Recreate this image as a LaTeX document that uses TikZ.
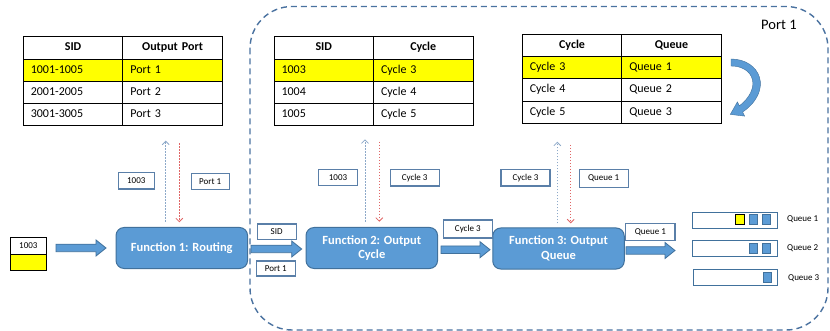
\documentclass[tikz,border=0pt]{standalone}
\usepackage{fontspec}
\setmainfont{Carlito}
\usetikzlibrary{arrows.meta,calc}
\definecolor{fblue}{HTML}{5B9BD5}
\definecolor{fborder}{HTML}{41719C}
\definecolor{lborder}{HTML}{5A7FA8}
\definecolor{dashcol}{HTML}{4A72A0}
\definecolor{upcol}{HTML}{8DA9C9}
\definecolor{downcol}{HTML}{E06666}
\definecolor{hyellow}{HTML}{FFFF00}
\begin{document}
\begin{tikzpicture}[x=1pt,y=-1pt,
  cellbase/.style={draw=black, line width=0.8pt, minimum height=22.25pt, inner xsep=7.5pt, inner ysep=0pt,
    text width=84.5pt, text height=8.5pt, text depth=2.5pt, font=\fontsize{12}{14}\selectfont},
  cellL/.style={cellbase, align=left},
  cellY/.style={cellbase, align=left, fill=hyellow},
  cellH/.style={cellbase, align=center, font=\bfseries\fontsize{12}{14}\selectfont},
  fbox/.style={draw=fborder, line width=1pt, fill=fblue, rounded corners=8pt, minimum width=131.5pt,
    minimum height=41pt, text=white, font=\bfseries\fontsize{12.5}{14.7}\selectfont, align=center, inner sep=0pt},
  lbox/.style={draw=lborder, line width=1.1pt, fill=white, font=\fontsize{9}{10}\selectfont, inner sep=0pt, minimum height=16pt},
  bigarrow/.style={draw=fborder, line width=0.8pt, fill=fblue,
    to path={let \p1=(\tikztostart), \p2=(\tikztotarget) in
      (\x1,\y1+3.75pt) -- (\x2-10pt,\y1+3.75pt) -- (\x2-10pt,\y1+8pt) -- (\x2,\y1)
      -- (\x2-10pt,\y1-8pt) -- (\x2-10pt,\y1-3.75pt) -- (\x1,\y1-3.75pt) -- cycle}},
  uparr/.style={draw=upcol, line width=0.8pt, dash pattern=on 1.5pt off 1.5pt, -{Straight Barb[length=3.5pt,width=7pt]}},
  downarr/.style={draw=downcol, line width=0.8pt, dash pattern=on 1.5pt off 1.5pt, -{Straight Barb[length=3.5pt,width=7pt]}},
  qbox/.style={draw=fborder, line width=1.2pt, fill=white, minimum width=85pt, minimum height=16pt, inner sep=0pt},
  qitem/.style={draw=fborder, line width=0.8pt, fill=fblue, minimum width=8.4pt, minimum height=10pt, inner sep=0pt},
  qlabel/.style={anchor=west, font=\fontsize{9}{10}\selectfont, inner sep=0pt}
]
\useasboundingbox (0,0) rectangle (830,331);
\fill[white] (0,0) rectangle (830,331);

% dashed port boundary
\draw[draw=dashcol, line width=1.4pt, dash pattern=on 6pt off 4pt, rounded corners=42pt] (250,6.5) rectangle (828,330);
\node[anchor=west, font=\fontsize{14.5}{16}\selectfont, inner sep=0pt] (portlbl) at (761,25) {Port 1};

% Table 1
\node[cellH] (t1h1) at (73.05,47.8) {SID};
\node[cellH] (t1h2) at (172.55,47.8) {Output Port};
\node[cellY] (t1a1) at (73.05,70.05) {1001-1005};
\node[cellY] (t1a2) at (172.55,70.05) {Port 1};
\node[cellL] (t1b1) at (73.05,92.3) {2001-2005};
\node[cellL] (t1b2) at (172.55,92.3) {Port 2};
\node[cellL] (t1c1) at (73.05,114.55) {3001-3005};
\node[cellL] (t1c2) at (172.55,114.55) {Port 3};

% Table 2
\node[cellH] (t2h1) at (323.75,47.8) {SID};
\node[cellH] (t2h2) at (423.25,47.8) {Cycle};
\node[cellY] (t2a1) at (323.75,70.05) {1003};
\node[cellY] (t2a2) at (423.25,70.05) {Cycle 3};
\node[cellL] (t2b1) at (323.75,92.3) {1004};
\node[cellL] (t2b2) at (423.25,92.3) {Cycle 4};
\node[cellL] (t2c1) at (323.75,114.55) {1005};
\node[cellL] (t2c2) at (423.25,114.55) {Cycle 5};

% Table 3
\node[cellH] (t3h1) at (572.05,45.4) {Cycle};
\node[cellH] (t3h2) at (671.55,45.4) {Queue};
\node[cellY] (t3a1) at (572.05,67.65) {Cycle 3};
\node[cellY] (t3a2) at (671.55,67.65) {Queue 1};
\node[cellL] (t3b1) at (572.05,89.9) {Cycle 4};
\node[cellL] (t3b2) at (671.55,89.9) {Queue 2};
\node[cellL] (t3c1) at (572.05,112.15) {Cycle 5};
\node[cellL] (t3c2) at (671.55,112.15) {Queue 3};

% curved arrow
\filldraw[fill=fblue, draw=fborder, line width=0.4pt]
  (731,59) .. controls (760,59) and (774,90) .. (742.6,112.1) -- (744.6,116.1) -- (730.3,114.4)
  -- (737.4,101.9) -- (739.4,105.9) .. controls (762,88) and (754,66) .. (731,66) -- cycle;

% input packet
\node[draw=black, line width=0.8pt, minimum width=35.3pt, minimum height=16.7pt, inner sep=0pt,
  font=\fontsize{9}{10}\selectfont] (pkt) at (28.35,245.65) {1003};
\node[draw=black, line width=0.8pt, fill=hyellow, minimum width=35.3pt, minimum height=16pt, inner sep=0pt,
  anchor=north] (pktb) at (pkt.south) {};

% function boxes
\node[fbox] (f1) at (181.8,248) {Function 1: Routing};
\node[fbox] (f2) at (371.8,248) {Function 2: Output\\Cycle};
\node[fbox] (f3) at (558.5,248.5) {Function 3: Output\\Queue};

% label boxes
\node[lbox, minimum width=36pt, minimum height=16.7pt] (l1003a) at (136.3,180.7) {1003};
\node[lbox, minimum width=38.3pt] (lport1a) at (210.2,181.3) {Port 1};
\node[lbox, minimum width=38.7pt, minimum height=15.3pt] (lsid) at (276.7,231.7) {SID};
\node[lbox, minimum width=39pt, minimum height=15pt] (lport1b) at (275.8,268.5) {Port 1};
\node[lbox, minimum width=38.6pt] (l1003b) at (338,177.3) {1003};
\node[lbox, minimum width=49.3pt, minimum height=16.7pt] (lcyc3a) at (414.7,177.7) {Cycle 3};
\node[lbox, minimum width=49pt, minimum height=18pt] (lcyc3b) at (467.8,229) {Cycle 3};
\node[lbox, minimum width=49pt, minimum height=16.7pt] (lcyc3c) at (525.5,177.7) {Cycle 3};
\node[lbox, minimum width=49.3pt, minimum height=18pt] (lq1a) at (603.7,178.3) {Queue 1};
\node[lbox, minimum width=49.3pt, minimum height=17.4pt] (lq1b) at (650.3,232) {Queue 1};

% big arrows
\coordinate (a0s) at (56,248);   \coordinate (a0e) at (106,248);
\coordinate (a1s) at (251,249);  \coordinate (a1e) at (301.7,249);
\coordinate (a2s) at (441,249.7);\coordinate (a2e) at (490,249.7);
\coordinate (a3s) at (626,250.5);\coordinate (a3e) at (675,250.5);
\draw[bigarrow] (a0s) to (a0e);
\draw[bigarrow] (a1s) to (a1e);
\draw[bigarrow] (a2s) to (a2e);
\draw[bigarrow] (a3s) to (a3e);

% dotted lookup arrows
\coordinate (u1s) at (165.7,221.7); \coordinate (u1e) at (165.7,140.7);
\coordinate (d1s) at (179.3,143.3); \coordinate (d1e) at (179.3,222.3);
\coordinate (u2s) at (365,221.7);   \coordinate (u2e) at (365,139.3);
\coordinate (d2s) at (379.3,141.7); \coordinate (d2e) at (379.3,221.7);
\coordinate (u3s) at (557.3,223.3); \coordinate (u3e) at (557.3,141.7);
\coordinate (d3s) at (570.7,145);   \coordinate (d3e) at (570.7,223.3);
\draw[uparr] (u1s) -- (u1e);
\draw[downarr] (d1s) -- (d1e);
\draw[uparr] (u2s) -- (u2e);
\draw[downarr] (d2s) -- (d2e);
\draw[uparr] (u3s) -- (u3e);
\draw[downarr] (d3s) -- (d3e);

% queues
\node[qbox] (q1) at (735.2,220.3) {};
\node[qbox] (q2) at (734.9,248.7) {};
\node[qbox, minimum width=84pt] (q3) at (735.7,277.3) {};
\node[qitem, fill=hyellow, draw=black] (q1a) at (739.7,219.3) {};
\node[qitem] (q1b) at (753.5,219.3) {};
\node[qitem] (q1c) at (766.5,219.3) {};
\node[qitem] (q2a) at (753.6,248.7) {};
\node[qitem] (q2b) at (766.5,248.7) {};
\node[qitem] (q3a) at (767.5,277.3) {};
\node[qlabel] (ql1) at (787,219) {Queue 1};
\node[qlabel] (ql2) at (787,248) {Queue 2};
\node[qlabel] (ql3) at (788,278.3) {Queue 3};
\end{tikzpicture}
\end{document}
